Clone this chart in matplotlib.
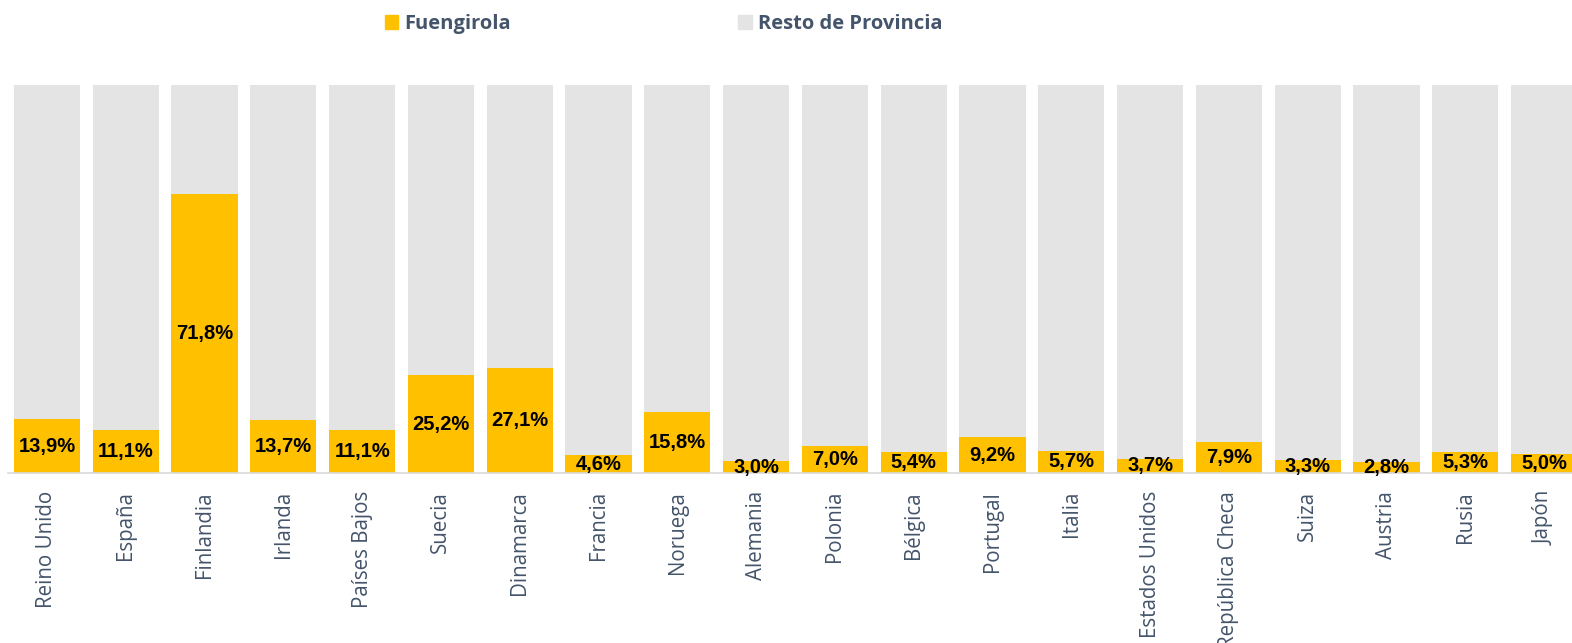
import matplotlib
matplotlib.use('Agg')
from matplotlib import pyplot as plt
from matplotlib.patches import Patch

paises = ["Reino Unido", "España", "Finlandia", "Irlanda", "Países Bajos",
          "Suecia", "Dinamarca", "Francia", "Noruega", "Alemania", "Polonia",
          "Bélgica", "Portugal", "Italia", "Estados Unidos", "República Checa",
          "Suiza", "Austria", "Rusia", "Japón"]
fuengirola = [13.9, 11.1, 71.8, 13.7, 11.1, 25.2, 27.1, 4.6, 15.8, 3.0, 7.0,
              5.4, 9.2, 5.7, 3.7, 7.9, 3.3, 2.8, 5.3, 5.0]
resto = [100 - v for v in fuengirola]

amarillo = "#FFC000"
gris = "#E4E4E4"
texto = "#44546A"

fig = plt.figure(figsize=(15.72, 6.43), dpi=100)
ax = fig.add_axes([0.0, 0.2644, 1.0, 0.6034])

x = list(range(len(paises)))
ax.bar(x, fuengirola, width=0.84, color=amarillo)
ax.bar(x, resto, width=0.84, bottom=fuengirola, color=gris)

for xi, v in zip(x, fuengirola):
    ax.text(xi, v / 2, f"{v:.1f}%".replace(".", ","), ha="center", va="center",
            fontsize=14.5, fontweight="bold", family="Liberation Sans",
            color="black")

ax.set_xlim(-0.596, 19.355)
ax.set_ylim(0, 100)
ax.set_xticks(x)
ax.set_xticklabels(paises, rotation=90, fontsize=14.8, family="Open Sans",
                   color=texto)
ax.tick_params(axis="x", length=0, pad=13)
ax.set_yticks([])
for s in ["top", "right", "left"]:
    ax.spines[s].set_visible(False)
ax.spines["bottom"].set_color("#D9D9D9")
ax.spines["bottom"].set_linewidth(1.2)
ax.spines["bottom"].set_bounds(-0.5, 19.355)

handles = [Patch(color=amarillo, label="Fuengirola"),
           Patch(color=gris, label="Resto de Provincia")]
fig.legend(handles=handles, loc="center left", bbox_to_anchor=(0.2386, 0.9627),
           ncol=2, frameon=False, borderpad=0, handlelength=0.65,
           handleheight=0.65, handletextpad=0.3, columnspacing=11.3,
           prop={"family": "Open Sans", "weight": "bold", "size": 14.5},
           labelcolor=texto)

fig.savefig("out.png", dpi=100)
